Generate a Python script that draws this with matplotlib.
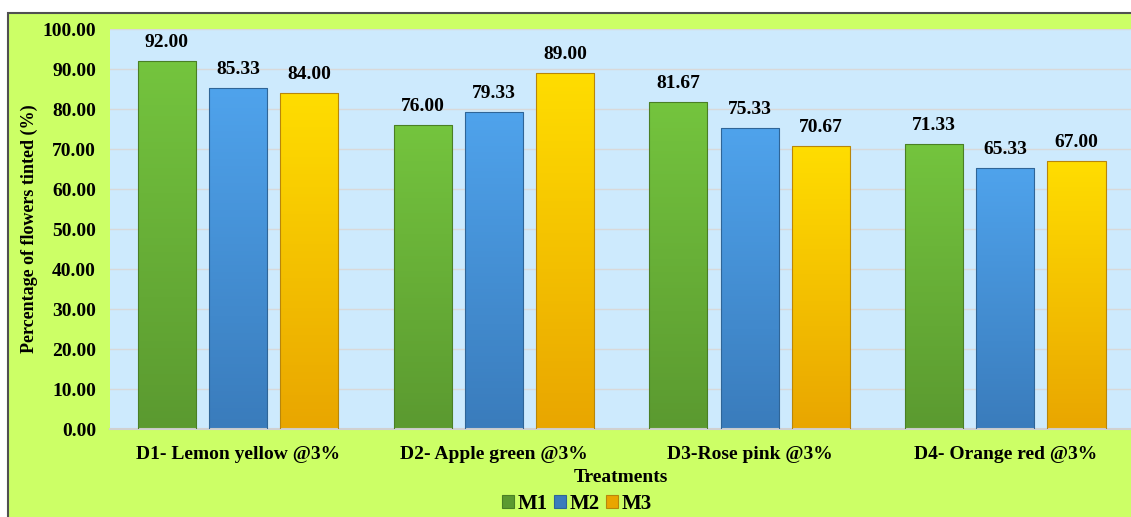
import matplotlib
matplotlib.use("Agg")
import matplotlib.pyplot as plt
import numpy as np
from matplotlib.patches import Rectangle
from matplotlib.colors import LinearSegmentedColormap

categories = ["D1- Lemon yellow @3%", "D2- Apple green @3%", "D3-Rose pink @3%", "D4- Orange red @3%"]
series_names = ["M1", "M2", "M3"]
m1 = [92.00, 76.00, 81.67, 71.33]
m2 = [85.33, 79.33, 75.33, 65.33]
m3 = [84.00, 89.00, 70.67, 67.00]
yticks = [0, 10, 20, 30, 40, 50, 60, 70, 80, 90, 100]

series = [m1, m2, m3]
grad = [("#5b9a30", "#74c43e", "#4a7f25"),
        ("#3a7cbc", "#4fa3ec", "#2f6597"),
        ("#e9a600", "#ffdd00", "#b8860b")]

plt.rcParams['font.family'] = ['Liberation Serif', 'DejaVu Serif']
plt.rcParams['font.weight'] = 'bold'

W, H = 1131, 517
fig = plt.figure(figsize=(W / 100, H / 100), dpi=100)
fig.patch.set_facecolor("white")

# outer green frame
frame = Rectangle((8 / W, -0.01), 1.02, (H - 13) / H + 0.01, transform=fig.transFigure,
                  facecolor="#ccff66", edgecolor="#505050", linewidth=1.5, zorder=-10)
fig.patches.append(frame)

ax = fig.add_axes([110 / W, (H - 429) / H, (W - 110) / W + 0.002, 400 / H])
ax.set_zorder(1)
ax.set_facecolor("#cdeafd")
ax.set_xlim(-0.5, 3.5)
ax.set_ylim(0, 100)

x = np.arange(len(categories))
width = 0.227
offset = 0.278
for i, vals in enumerate(series):
    bottom_c, top_c, edge_c = grad[i]
    cmap = LinearSegmentedColormap.from_list("g%d" % i, [bottom_c, top_c])
    bars = ax.bar(x + (i - 1) * offset, vals, width, color="none", edgecolor=edge_c,
                  linewidth=0.8, zorder=3, label=series_names[i])
    for b, v in zip(bars, vals):
        x0 = b.get_x()
        img = ax.imshow(np.linspace(0, 1, 100).reshape(-1, 1), cmap=cmap, origin="lower",
                        extent=[x0, x0 + width, 0, v], aspect="auto", zorder=2)
        img.set_clip_path(b)
        ax.text(x0 + width / 2, v + 2.5, "%.2f" % v, ha="center", va="bottom",
                fontsize=14, fontweight="bold", color="black", zorder=4)

ax.set_xlim(-0.5, 3.5)
ax.set_ylim(0, 100)
ax.set_yticks(yticks)
ax.set_yticklabels(["%.2f" % t for t in yticks], fontsize=14, fontweight="bold")
ax.set_xticks(x)
ax.set_xticklabels(categories, fontsize=14, fontweight="bold")
ax.tick_params(axis="y", length=0, pad=10)
ax.tick_params(axis="x", length=0, pad=12)
ax.grid(axis="y", color="#d9d9d9", linewidth=1, zorder=1)
ax.set_axisbelow(True)
for s in ["top", "right", "left"]:
    ax.spines[s].set_visible(False)
ax.spines["bottom"].set_color("#d0d0d0")
ax.spines["bottom"].set_linewidth(1.5)

ax.set_ylabel("Percentage of flowers tinted (%)", fontsize=13, fontweight="bold", labelpad=3)
fig.text((110 + W) / 2 / W, (H - 478) / H, "Treatments", ha="center", va="center",
         fontsize=14, fontweight="bold")

handles = [Rectangle((0, 0), 1, 1, facecolor=grad[i][0], edgecolor=grad[i][2], linewidth=0.8)
           for i in range(3)]
fig.legend(handles, series_names, loc="center", bbox_to_anchor=(577 / W, (H - 504) / H),
           ncol=3, frameon=False, handlelength=0.55, handleheight=0.55,
           handletextpad=0.2, columnspacing=0.3, prop={"weight": "bold", "size": 15})

fig.savefig("out.png", dpi=100, facecolor=fig.get_facecolor())
